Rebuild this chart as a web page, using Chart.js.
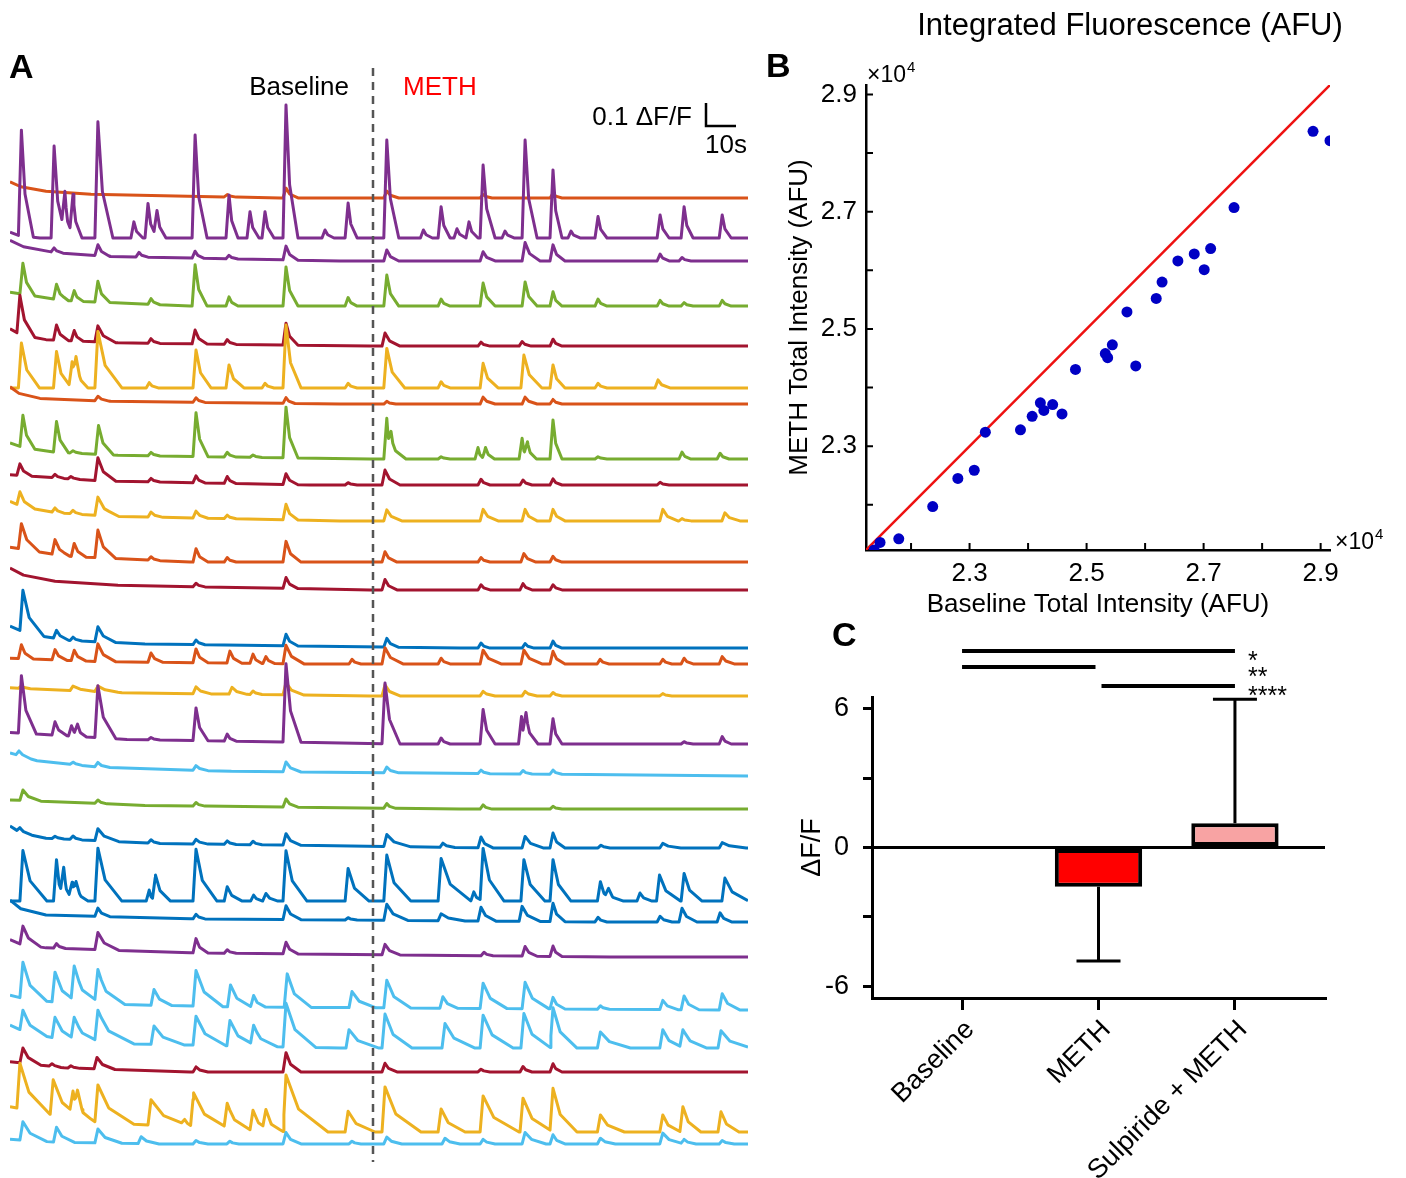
<!DOCTYPE html>
<html>
<head>
<meta charset="utf-8">
<script src="https://cdn.jsdelivr.net/npm/chart.js@4.4.0/dist/chart.umd.min.js"></script>
<style>
  body { margin: 0; background: #fff; width: 1406px; height: 1178px; position: relative; overflow: hidden; }
  .panel { position: absolute; }
</style>
</head>
<body>
<div class="panel" style="left:0;top:0;width:760px;height:1178px"><canvas id="tracesChart"></canvas></div>
<div class="panel" style="left:760px;top:0;width:646px;height:620px"><canvas id="scatterChart"></canvas></div>
<div class="panel" style="left:780px;top:610px;width:626px;height:568px"><canvas id="barChart"></canvas></div>
<script>
// ---- A: single-cell dF/F traces ----
const traceEnd = 246;      // s
const drugOnset = 121;     // s, METH wash-in
const blue = '#0072BD', orange = '#D95319', gold = '#EDB120', purple = '#7E2F8E',
      green = '#77AC30', cyan = '#4DBEEE', wine = '#A2142F';
const traceColors = [orange, purple, purple, green, wine, gold, orange, green, wine, gold,
  orange, wine, blue, orange, gold, purple, cyan, green, blue, blue, blue, purple, cyan,
  cyan, wine, gold, cyan];
// resting level of each trace, stacked in dF/F units
const traceBaselines = [4.261, 4.087, 3.987, 3.791, 3.617, 3.435, 3.365, 3.126, 3.013, 2.857,
  2.678, 2.557, 2.304, 2.235, 2.096, 1.887, 1.748, 1.604, 1.435, 1.204, 1.113, 0.961, 0.730,
  0.565, 0.461, 0.200, 0.148];
// transients per trace: [peak time s, amplitude dF/F, decay s]; entries at t=0 are bleaching drift
const traceEvents = [
  [[0,.03,12],[0,.04,90],[72.4,.01,3],[92,.043,4],[125.6,.03,4],[157.7,.015,3],[181,.02,3]],
  [[0,.025,10],[3.8,.46,4],[14.7,.40,4],[18.3,.18,3],[21,.18,3],[29.3,.505,5],[41.3,.07,3],[46,.15,3],[49,.12,3],[61.7,.448,4],[73,.187,3],[80,.114,3],[85,.114,3],[92,.578,4],[105,.035,3],[112.7,.152,3],[125.6,.426,4],[137.8,.035,3],[143.7,.136,3],[149,.04,3],[153,.07,3],[157.7,.317,4],[165,.03,3],[171.7,.426,4],[181,.296,3],[187,.03,3],[196,.093,3],[216.7,.10,3],[224.7,.136,3],[237.4,.10,3]],
  [[0,.04,15],[0,.05,110],[14.7,.02,3],[29.3,.047,4],[43,.02,3],[61.7,.03,3],[73,.015,3],[92,.06,4],[125.6,.048,4],[157.7,.04,4],[171.7,.08,5],[181,.07,4],[216.7,.03,3],[224,.015,3]],
  [[0,.06,60],[4.3,.135,4],[15.5,.066,4],[21.4,.045,3],[29.3,.09,4],[47,.025,3],[61.7,.18,4],[73,.04,3],[92,.17,4],[112.7,.037,3],[125.6,.135,4],[143.7,.03,3],[157.7,.10,4],[171.7,.105,4],[181,.062,3],[196,.03,3],[216.7,.025,3],[224.7,.015,3],[237.4,.025,3]],
  [[0,.04,12],[0,.035,120],[3.3,.17,5],[15.5,.066,4],[21.4,.045,3],[29.3,.07,6],[47,.02,3],[61.7,.06,4],[72.4,.02,3],[92,.095,4],[125,.057,5],[157,.017,3],[170.7,.02,3],[181,.03,3]],
  [[3.8,.195,6],[15.5,.158,5],[20.7,.114,3],[22,.10,4],[29.3,.245,8],[46.4,.023,3],[62,.165,5],[73,.10,5],[85,.02,3],[92,.274,5],[112.7,.02,3],[125.6,.172,6],[143.7,.027,3],[157.7,.107,5],[171.3,.143,6],[181,.10,4],[196,.02,3],[216,.035,4]],
  [[0,.045,10],[0,.03,110],[29.3,.02,4],[62,.02,3],[92,.025,3],[125.6,.012,3],[157.7,.03,4],[171.7,.03,4],[181,.02,3]],
  [[0,.03,15],[0,.04,120],[4.3,.14,4],[15.5,.133,4],[21,.01,3],[29.5,.125,5],[47,.015,3],[62,.19,4],[72.4,.02,3],[81,.01,3],[92,.22,4],[125.6,.177,2],[127,.09,5],[143.7,.01,3],[156,.05,2],[158.5,.05,3],[170.7,.09,2],[172.5,.07,3],[181,.17,3],[196,.01,3],[224,.03,3],[236.7,.025,3]],
  [[0,.045,100],[3.3,.05,4],[15,.015,3],[20.3,.01,3],[29.3,.10,6],[47,.015,3],[62,.03,3],[72.4,.03,3],[92,.047,4],[112.7,.01,3],[125,.065,5],[157,.025,3],[171,.022,3],[181,.027,3],[216.7,.012,3]],
  [[0,.035,15],[0,.05,110],[3.3,.06,5],[15,.02,3],[21,.015,3],[29.3,.08,7],[47,.022,4],[62,.03,4],[72.4,.015,3],[92,.068,4],[125.6,.048,5],[157.7,.05,5],[171.7,.05,4],[181,.05,4],[217.6,.05,5],[224,.01,3],[238.3,.035,5]],
  [[0,.065,60],[3.8,.11,6],[15,.065,5],[21.4,.057,4],[29.3,.12,6],[47,.015,3],[62,.058,4],[72.4,.02,3],[92,.09,5],[125,.045,4],[157,.02,3],[171.3,.037,4],[181,.025,3]],
  [[0,.045,15],[0,.05,120],[62,.015,3],[92,.047,4],[125,.045,4],[157,.022,3],[171,.027,3],[181,.022,3]],
  [[0,.05,20],[0,.045,150],[4.3,.18,7],[15.5,.035,4],[21,.015,3],[29.3,.065,6],[62,.02,3],[92,.05,4],[125.6,.038,4],[157,.022,3],[171.7,.02,3],[181,.03,3]],
  [[0,.025,100],[3.8,.06,4],[15,.045,4],[21.4,.045,4],[29.3,.077,6],[47,.04,4],[62,.06,4],[73.3,.052,4],[81,.04,3],[85.3,.03,3],[92,.08,6],[114,.02,3],[125,.07,6],[143.7,.025,3],[157.7,.06,6],[171.3,.06,6],[181,.055,4],[196.7,.02,3],[217.6,.02,3],[224.7,.025,3],[237.4,.032,4]],
  [[0,.035,120],[3.8,.01,3],[21,.02,8],[29.3,.025,8],[62,.03,5],[74,.03,5],[81,.015,3],[92,.053,6],[125,.048,5],[157.7,.02,4],[171.7,.02,4],[181,.015,3],[217.6,.01,3]],
  [[0,.05,130],[3.8,.25,5],[15,.058,4],[20.5,.045,3],[22.5,.045,3],[29.3,.226,6],[47,.01,3],[62,.142,4],[72.4,.03,3],[92,.34,5],[125,.264,5],[143.7,.026,3],[157.7,.15,4],[170.5,.12,2],[172,.12,4],[181,.11,3],[224.7,.01,3],[237.4,.032,3]],
  [[0,.05,30],[0,.05,246],[3,.02,4],[21,.01,3],[29.3,.02,4],[62,.02,4],[92,.043,5],[125.6,.025,4],[157,.015,3],[171,.015,3],[181,.018,3]],
  [[0,.04,150],[4.3,.045,6],[29.3,.015,3],[62,.015,3],[92,.035,4],[125.6,.02,3],[157.7,.018,3],[181,.012,3]],
  [[0,.045,12],[0,.05,160],[3.3,.02,4],[15,.01,3],[21,.015,3],[29.3,.052,7],[47,.015,3],[62,.02,4],[72.4,.015,3],[81,.015,3],[92,.05,5],[125.6,.052,8],[144.3,.018,4],[157,.047,4],[171.7,.05,6],[181,.065,4],[197,.012,3],[217.6,.02,6],[237.4,.023,8]],
  [[4.3,.22,8],[15.5,.18,3],[17.9,.127,3],[20.7,.077,3],[22,.06,4],[29.3,.23,8],[46.4,.048,2],[48.5,.113,5],[62,.225,7],[72.4,.062,5],[81.2,.026,3],[85.3,.033,4],[92,.219,7],[112.7,.142,7],[125.6,.20,8],[143.7,.185,10],[154.6,.04,3],[157.7,.229,7],[171.3,.18,7],[181,.18,6],[196.8,.084,4],[199.5,.04,5],[210,.035,4],[216.5,.113,7],[224.7,.12,6],[238.3,.10,8]],
  [[0,.06,12],[0,.035,200],[29.3,.036,4],[62,.02,3],[92,.06,5],[112.7,.01,3],[125.6,.07,7],[143.7,.03,8],[157,.06,5],[170.7,.065,6],[181,.08,4],[196,.02,3],[216.7,.025,4],[224,.06,5],[236.7,.04,4]],
  [[0,.03,12],[0,.045,200],[4.3,.08,6],[15.5,.02,3],[29.3,.075,7],[62,.062,4],[72.4,.015,3],[92,.05,4],[125,.045,5],[158,.015,3],[171.7,.042,4],[181,.045,3]],
  [[0,.03,20],[0,.035,246],[4.3,.157,8],[15,.13,8],[21.4,.148,9],[29.3,.14,9],[48,.068,6],[62,.155,9],[73.5,.095,7],[81.2,.05,4],[92.4,.145,8],[114,.07,8],[125.6,.12,8],[144.3,.05,5],[157.7,.11,8],[171.7,.115,8],[181,.05,4],[196.8,.015,3],[217.6,.04,5],[224.7,.06,5],[237.4,.07,6]],
  [[0,.05,20],[0,.05,110],[4.3,.09,8],[15,.09,8],[21.4,.093,9],[29.3,.135,12],[48,.08,10],[62,.126,10],[73.3,.11,9],[81.2,.084,8],[92,.19,10],[113,.08,10],[125,.148,9],[145,.107,10],[157.7,.143,10],[171.3,.15,9],[181,.175,8],[196.8,.07,10],[217.6,.08,7],[224.3,.078,8],[237,.075,10]],
  [[0,.045,60],[4.3,.066,6],[14,.012,3],[20.3,.01,3],[29,.05,6],[62,.022,4],[92,.084,5],[125,.038,4],[157,.012,3],[171,.024,3],[181,.036,3]],
  [[0,.11,90],[3.3,.197,10],[14.4,.152,10],[21,.09,3],[22.5,.085,6],[29.3,.162,12],[47,.11,14],[58.2,.02,3],[61.2,.15,12],[72.4,.107,8],[81,.088,6],[85.3,.08,6],[92,.248,14],[112.7,.09,9],[125,.196,12],[143.7,.10,8],[157.7,.157,12],[171,.147,10],[181,.19,8],[196.8,.074,8],[217.6,.074,6],[224.3,.11,6],[237,.088,6]],
  [[0,.02,50],[4.3,.08,8],[15.5,.065,6],[29.3,.06,8],[43.7,.03,6],[62,.015,4],[73.3,.012,3],[92,.05,5],[114,.012,3],[125.6,.03,5],[145,.025,5],[157.7,.02,4],[171.7,.05,7],[181,.04,4],[196.8,.025,5],[217.6,.047,7],[224.7,.02,4],[237.4,.015,4]]
];

// ---- B: integrated fluorescence per cell (x10^4 AFU) ----
const baselineTotal = [2.137, 2.147, 2.179, 2.237, 2.280, 2.308, 2.327, 2.387, 2.407, 2.421,
  2.427, 2.442, 2.458, 2.481, 2.532, 2.536, 2.544, 2.569, 2.584, 2.619, 2.629, 2.656, 2.684,
  2.701, 2.712, 2.752, 2.887, 2.916];
const methTotal = [2.123, 2.136, 2.142, 2.197, 2.245, 2.259, 2.324, 2.328, 2.351, 2.374,
  2.361, 2.371, 2.355, 2.431, 2.458, 2.451, 2.473, 2.529, 2.437, 2.552, 2.580, 2.616, 2.628,
  2.601, 2.637, 2.707, 2.837, 2.821];
const intensityRange = [2.123, 2.916];
const intensityLabels = [2.3, 2.5, 2.7, 2.9];
const intensityMinor = [2.2, 2.3, 2.4, 2.5, 2.6, 2.7, 2.8, 2.9];

// ---- C: mean dF/F change per condition ----
const groups = ['Baseline', 'METH', 'Sulpiride + METH'];
const groupMeans = [0, -1.7, 1.05];
const groupErrors = [0, 3.2, 5.35];
const groupColors = ['#ffffff', '#ff0000', '#f8a3a3'];
const dffTicks = [-6, -3, 0, 3, 6];
const comparisons = [[0, 2, '*'], [0, 1, '**'], [1, 2, '****']];

const FONT = '"Liberation Sans", Arial, Helvetica, sans-serif';
Chart.defaults.font.family = FONT;
Chart.defaults.color = '#000';
Chart.defaults.animation = false;

const RISE = 1; // s, onset of each transient

// fast rise, then a quick drop to ~40% and a slower tail back to rest
function pulse(t, t0, a, w) {
  if (t > t0 + w || t < t0 - RISE) return 0;
  if (t <= t0) return t0 === 0 ? a : a * (t - (t0 - RISE)) / RISE;
  const knee = 0.3 * w;
  if (t <= t0 + knee) return a * (1 - 0.6 * (t - t0) / knee);
  return a * 0.4 * (1 - (t - t0 - knee) / (w - knee));
}

function traceData(events, offset) {
  const times = new Set([0, traceEnd]);
  events.forEach(([t, a, w]) => {
    if (t > 0) times.add(t - RISE);
    times.add(t);
    times.add(t + 0.3 * w);
    times.add(t + w);
  });
  return [...times].filter(t => t >= 0 && t <= traceEnd).sort((p, q) => p - q)
    .map(t => ({ x: t, y: offset + events.reduce((s, [t0, a, w]) => s + pulse(t, t0, a, w), 0) }));
}

const tracesAnnotations = {
  id: 'tracesAnnotations',
  afterDraw(chart) {
    const { ctx, scales: { x, y } } = chart;
    ctx.save();
    // drug onset marker
    const xd = x.getPixelForValue(drugOnset);
    ctx.strokeStyle = '#555';
    ctx.lineWidth = 2.5;
    ctx.setLineDash([8, 6]);
    ctx.beginPath();
    ctx.moveTo(xd, 68);
    ctx.lineTo(xd, 1162);
    ctx.stroke();
    ctx.setLineDash([]);

    ctx.font = '26px ' + FONT;
    ctx.textBaseline = 'middle';
    ctx.fillStyle = '#000';
    ctx.textAlign = 'right';
    ctx.fillText('Baseline', xd - 24, 88);
    ctx.fillStyle = '#ff0000';
    ctx.textAlign = 'left';
    ctx.fillText('METH', xd + 30, 88);

    // scale bar: 0.1 dF/F by 10 s
    const bx0 = x.getPixelForValue(232), bx1 = x.getPixelForValue(232 + 10);
    const by0 = y.getPixelForValue(4.574), by1 = y.getPixelForValue(4.574 + 0.1);
    ctx.strokeStyle = '#000';
    ctx.lineWidth = 2.5;
    ctx.beginPath();
    ctx.moveTo(bx0, by1);
    ctx.lineTo(bx0, by0);
    ctx.lineTo(bx1, by0);
    ctx.stroke();
    ctx.fillStyle = '#000';
    ctx.textAlign = 'right';
    ctx.fillText('0.1 \u0394F/F', bx0 - 14, 118);
    ctx.textAlign = 'center';
    ctx.fillText('10s', (bx0 + bx1) / 2 + 5, 146);

    ctx.font = 'bold 34px ' + FONT;
    ctx.textAlign = 'left';
    ctx.textBaseline = 'alphabetic';
    ctx.fillText('A', 9, 78);
    ctx.restore();
  }
};

new Chart(document.getElementById('tracesChart'), {
  type: 'line',
  data: {
    datasets: traceEvents.map((ev, i) => ({
      data: traceData(ev, traceBaselines[i]),
      borderColor: traceColors[i],
      borderWidth: 3,
      borderJoinStyle: 'round',
      pointRadius: 0,
      tension: 0,
      order: traceEvents.length - i
    }))
  },
  options: {
    responsive: true,
    maintainAspectRatio: false,
    layout: { padding: { left: 10, right: 12, top: 0, bottom: 0 } },
    plugins: { legend: { display: false }, tooltip: { enabled: false } },
    scales: {
      x: { type: 'linear', min: 0, max: traceEnd, display: false },
      y: { min: 0, max: 1178 / 230, display: false }
    }
  },
  plugins: [tracesAnnotations]
});

// ---- B ----
function drawTimesTen(ctx, x, yBase) {
  ctx.font = '23px ' + FONT;
  ctx.textAlign = 'left';
  ctx.textBaseline = 'alphabetic';
  ctx.fillText('\u00d710', x, yBase);
  const w = ctx.measureText('\u00d710').width;
  ctx.font = '15px ' + FONT;
  ctx.fillText('4', x + w + 1, yBase - 10);
}

const scatterDecor = {
  id: 'scatterDecor',
  afterDraw(chart) {
    const { ctx, chartArea: a, scales: { x, y } } = chart;
    ctx.save();
    ctx.strokeStyle = '#000';
    ctx.lineWidth = 2;
    ctx.beginPath();
    intensityMinor.forEach(v => {
      const px = x.getPixelForValue(v);
      ctx.moveTo(px, a.bottom);
      ctx.lineTo(px, a.bottom - 7);
      const py = y.getPixelForValue(v);
      ctx.moveTo(a.left, py);
      ctx.lineTo(a.left + 7, py);
    });
    ctx.stroke();
    ctx.fillStyle = '#000';
    ctx.font = '31px ' + FONT;
    ctx.textAlign = 'center';
    ctx.textBaseline = 'middle';
    ctx.fillText('Integrated Fluorescence (AFU)', 370, 26);
    ctx.font = 'bold 34px ' + FONT;
    ctx.textAlign = 'left';
    ctx.textBaseline = 'alphabetic';
    ctx.fillText('B', 6, 77);
    drawTimesTen(ctx, a.left + 1, a.top - 3);
    drawTimesTen(ctx, a.right + 5, a.bottom - 1);
    ctx.restore();
  }
};

new Chart(document.getElementById('scatterChart'), {
  type: 'scatter',
  data: {
    datasets: [{
      data: baselineTotal.map((v, i) => ({ x: v, y: methTotal[i] })),
      backgroundColor: '#0000c4',
      borderWidth: 0,
      pointRadius: 5.5
    }, {
      type: 'line',
      data: intensityRange.map(v => ({ x: v, y: v })),
      borderColor: '#ee1111',
      borderWidth: 2.5,
      pointRadius: 0
    }]
  },
  options: {
    responsive: true,
    maintainAspectRatio: false,
    layout: { padding: { left: 0, right: 76, top: 85, bottom: 0 } },
    plugins: { legend: { display: false }, tooltip: { enabled: false } },
    scales: {
      x: {
        type: 'linear', min: intensityRange[0], max: intensityRange[1],
        afterBuildTicks: s => { s.ticks = intensityLabels.map(v => ({ value: v })); },
        afterFit: s => { s.height = 70; },
        grid: { display: false, drawTicks: false },
        border: { color: '#000', width: 2.5 },
        ticks: { font: { size: 26 }, padding: 8, maxRotation: 0, callback: v => v.toFixed(1) },
        title: { display: true, text: 'Baseline Total Intensity (AFU)', font: { size: 26 }, padding: { top: 0, bottom: 0 } }
      },
      y: {
        min: intensityRange[0], max: intensityRange[1],
        afterBuildTicks: s => { s.ticks = intensityLabels.map(v => ({ value: v })); },
        afterFit: s => { s.width = 106; },
        grid: { display: false, drawTicks: false },
        border: { color: '#000', width: 2.5 },
        ticks: { font: { size: 26 }, padding: 9, callback: v => v.toFixed(1) },
        title: { display: true, text: 'METH Total Intensity (AFU)', font: { size: 26 }, padding: { top: 24, bottom: 0 } }
      }
    }
  },
  plugins: [scatterDecor]
});

// ---- C ----
const barDecor = {
  id: 'barDecor',
  beforeDatasetsDraw(chart) {
    const { ctx, chartArea: a, scales: { y } } = chart;
    ctx.save();
    ctx.strokeStyle = '#000';
    ctx.lineWidth = 3;
    ctx.beginPath();
    ctx.moveTo(a.left, y.getPixelForValue(0));
    ctx.lineTo(a.right, y.getPixelForValue(0));
    ctx.stroke();
    ctx.restore();
  },
  afterDatasetsDraw(chart) {
    const { ctx, chartArea: a, scales: { x, y } } = chart;
    ctx.save();
    ctx.strokeStyle = '#000';
    ctx.lineWidth = 3;
    groupMeans.forEach((m, i) => {
      if (!groupErrors[i]) return;
      const px = x.getPixelForValue(i);
      const end = m + Math.sign(m) * groupErrors[i];
      const y0 = y.getPixelForValue(m), y1 = y.getPixelForValue(end);
      ctx.beginPath();
      ctx.moveTo(px, y0);
      ctx.lineTo(px, y1);
      ctx.moveTo(px - 22, y1);
      ctx.lineTo(px + 22, y1);
      ctx.stroke();
    });
    // significance brackets
    const rows = [a.top - 46, a.top - 30, a.top - 11];
    ctx.lineWidth = 4;
    ctx.fillStyle = '#000';
    ctx.font = '25px ' + FONT;
    ctx.textAlign = 'left';
    ctx.textBaseline = 'alphabetic';
    comparisons.forEach(([g0, g1, stars], k) => {
      const x0 = x.getPixelForValue(g0) + (k === 2 ? 3 : 0);
      const x1 = x.getPixelForValue(g1) - (k === 1 ? 3 : 0);
      ctx.beginPath();
      ctx.moveTo(x0, rows[k]);
      ctx.lineTo(x1, rows[k]);
      ctx.stroke();
      ctx.fillText(stars, x.getPixelForValue(2) + 13, rows[k] + 18);
    });
    ctx.font = 'bold 34px ' + FONT;
    ctx.fillText('C', 52, 36);
    ctx.restore();
  }
};

new Chart(document.getElementById('barChart'), {
  type: 'bar',
  data: {
    datasets: [{
      data: groupMeans.map((m, i) => ({ x: i, y: m })),
      backgroundColor: groupColors,
      borderColor: '#000',
      borderWidth: 4,
      borderSkipped: false,
      barPercentage: 0.8,
      categoryPercentage: 0.8
    }]
  },
  options: {
    responsive: true,
    maintainAspectRatio: false,
    layout: { padding: { left: 0, right: 81, top: 87, bottom: 0 } },
    plugins: { legend: { display: false }, tooltip: { enabled: false } },
    scales: {
      x: {
        type: 'linear', min: -0.66, max: 2.66, offset: false,
        afterBuildTicks: s => { s.ticks = groups.map((g, i) => ({ value: i })); },
        afterFit: s => { s.height = 180; },
        grid: { drawOnChartArea: false, offset: false, tickLength: 12, color: '#000', lineWidth: 3 },
        border: { color: '#000', width: 3 },
        ticks: { font: { size: 27 }, minRotation: 45, maxRotation: 45, padding: 4, labelOffset: 8, callback: v => groups[v] }
      },
      y: {
        min: -6.5, max: 6.5,
        afterBuildTicks: s => { s.ticks = dffTicks.map(v => ({ value: v })); },
        afterFit: s => { s.width = 92; },
        grid: { drawOnChartArea: false, tickLength: 9, color: '#000', lineWidth: 3 },
        border: { color: '#000', width: 3 },
        ticks: { font: { size: 27 }, padding: 14, callback: v => (v % 6 === 0 ? String(v) : '') },
        title: { display: true, text: '\u0394F/F', font: { size: 27 }, padding: { top: 16, bottom: 0 } }
      }
    }
  },
  plugins: [barDecor]
});
</script>
</body>
</html>
